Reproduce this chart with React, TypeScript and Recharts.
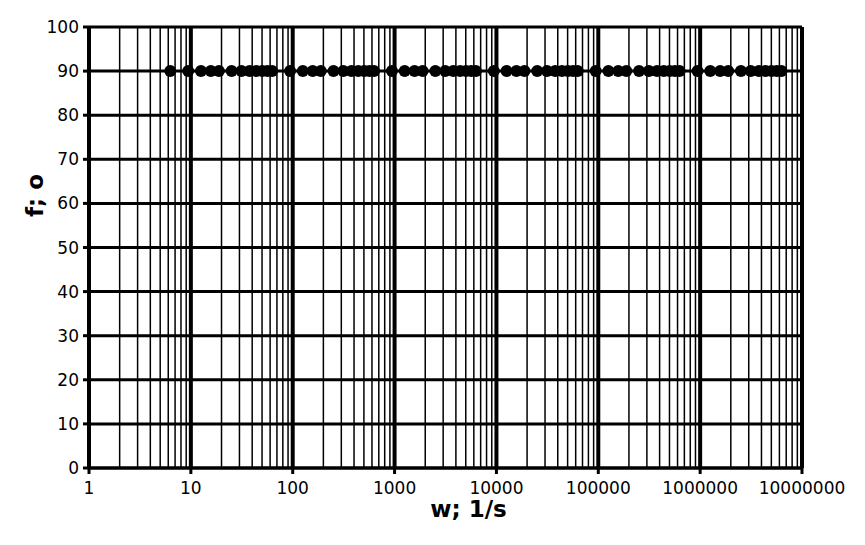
import React from 'react';
import { ScatterChart, Scatter, XAxis, YAxis, CartesianGrid, ReferenceLine, Label } from 'recharts';

// angular frequency w (1/s) and phase f (deg)
const wValues: number[] = [
  6.28, 9.42, 12.57, 15.71, 18.85, 25.13, 31.42, 37.7, 43.98, 50.27, 56.55,
  62.83, 94.25, 125.66, 157.08, 188.5, 251.33, 314.16, 376.99, 439.82, 502.65, 565.49,
  628.32, 942.48, 1256.64, 1570.8, 1884.96, 2513.27, 3141.59, 3769.91, 4398.23, 5026.55, 5654.87,
  6283.19, 9424.78, 12566.37, 15707.96, 18849.56, 25132.74, 31415.93, 37699.11, 43982.3, 50265.48, 56548.67,
  62831.85, 94247.78, 125663.71, 157079.63, 188495.56, 251327.41, 314159.27, 376991.12, 439822.97, 502654.82, 565486.68,
  628318.53, 942477.8, 1256637.06, 1570796.33, 1884955.59, 2513274.12, 3141592.65, 3769911.18, 4398229.65, 5026548.25, 5654866.78,
  6283185.31,
];
const phiValues: number[] = wValues.map(() => 90);

const xTicks: number[] = [1, 10, 100, 1000, 10000, 100000, 1000000, 10000000];
const yTicks: number[] = [0, 10, 20, 30, 40, 50, 60, 70, 80, 90, 100];
const minorMultipliers: number[] = [2, 3, 4, 5, 6, 7, 8, 9];
const minorDecades: number[] = [1, 10, 100, 1000, 10000, 100000, 1000000];

const data = wValues.map((w, i) => ({ w, phi: phiValues[i] }));
const minorLines: number[] = [];
minorDecades.forEach((d) => minorMultipliers.forEach((m) => minorLines.push(m * d)));

const FONT = '"DejaVu Sans", sans-serif';

const XLabel = (props: any) => {
  const vb = props.viewBox || {};
  return (
    <text
      x={vb.x + vb.width / 2 + 23}
      y={vb.y + 41}
      textAnchor="middle"
      dominantBaseline="central"
      fontFamily={FONT}
      fontWeight="bold"
      fontSize={23}
      fill="#000"
    >
      w; 1/s
    </text>
  );
};

const YLabel = (props: any) => {
  const vb = props.viewBox || {};
  const cx = 35;
  const cy = vb.y + vb.height / 2 - 52;
  return (
    <text
      x={cx}
      y={cy}
      transform={`rotate(-90, ${cx}, ${cy})`}
      textAnchor="middle"
      dominantBaseline="central"
      fontFamily={FONT}
      fontWeight="bold"
      fontSize={23}
      fill="#000"
    >
      f; o
    </text>
  );
};

const Dot = (props: any) => <circle cx={props.cx} cy={props.cy} r={6} fill="#000" />;

export default function App() {
  return (
    <div style={{ position: 'absolute', left: 0, top: 0, background: '#fff' }}>
      <ScatterChart width={865} height={545} margin={{ top: 27, right: 63, bottom: 0, left: 0 }}>
        {minorLines.map((v) => (
          <ReferenceLine key={v} x={v} stroke="#000" strokeWidth={1.5} ifOverflow="hidden" />
        ))}
        <CartesianGrid vertical={false} stroke="#000" strokeWidth={3} />
        <CartesianGrid horizontal={false} stroke="#000" strokeWidth={4} />
        <XAxis
          dataKey="w"
          type="number"
          scale="log"
          domain={[1, 10000000]}
          ticks={xTicks}
          interval={0}
          height={77}
          tickFormatter={(v: number) => String(v)}
          tick={{ fill: '#000', fontSize: 17, fontFamily: FONT }}
          tickSize={6}
          tickMargin={8}
          axisLine={{ stroke: '#000', strokeWidth: 3 }}
          tickLine={{ stroke: '#000', strokeWidth: 3 }}
          allowDataOverflow
        >
          <Label content={XLabel} />
        </XAxis>
        <YAxis
          dataKey="phi"
          type="number"
          domain={[0, 100]}
          ticks={yTicks}
          interval={0}
          width={89}
          tick={{ fill: '#000', fontSize: 17, fontFamily: FONT }}
          tickSize={6}
          tickMargin={4}
          axisLine={{ stroke: '#000', strokeWidth: 4 }}
          tickLine={{ stroke: '#000', strokeWidth: 3 }}
        >
          <Label content={YLabel} />
        </YAxis>
        <Scatter data={data} shape={Dot} isAnimationActive={false} />
      </ScatterChart>
    </div>
  );
}
